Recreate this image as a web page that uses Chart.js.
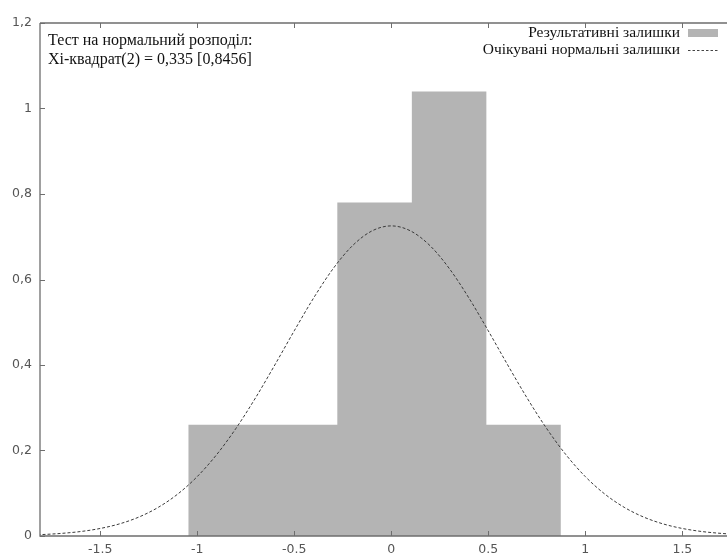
<!DOCTYPE html>
<html>
<head>
<meta charset="utf-8">
<script src="https://cdn.jsdelivr.net/npm/chart.js@4"></script>
<style>
  html, body { margin: 0; padding: 0; background: #fff; }
  #wrap { width: 727px; height: 558px; position: relative; }
</style>
</head>
<body>
<div id="wrap"><canvas id="chart"></canvas></div>
<script>
// histogram bins (bin edges and frequency density)
const binEdges = [-1.046, -0.662, -0.278, 0.106, 0.49, 0.874];
const binDensity = [0.26, 0.26, 0.78, 1.04, 0.26];

// expected normal curve
const curveX = [-1.9, -1.8, -1.7, -1.6, -1.5, -1.4, -1.3, -1.2, -1.1, -1.0,
  -0.9, -0.8, -0.7, -0.6, -0.5, -0.4, -0.3, -0.2, -0.1, 0,
  0.1, 0.2, 0.3, 0.4, 0.5, 0.6, 0.7, 0.8, 0.9, 1.0,
  1.1, 1.2, 1.3, 1.4, 1.5, 1.6, 1.7, 1.8, 1.9];
const curveY = [0.0019, 0.0034, 0.0061, 0.0105, 0.0176, 0.0284, 0.0444, 0.0672, 0.0982, 0.1389,
  0.1902, 0.2519, 0.3227, 0.4001, 0.4799, 0.5568, 0.6251, 0.6790, 0.7135, 0.7254,
  0.7135, 0.6790, 0.6251, 0.5568, 0.4799, 0.4001, 0.3227, 0.2519, 0.1902, 0.1389,
  0.0982, 0.0672, 0.0444, 0.0284, 0.0176, 0.0105, 0.0061, 0.0034, 0.0019];

const xTicks = [-1.5, -1, -0.5, 0, 0.5, 1, 1.5];
const yTicks = [0, 0.2, 0.4, 0.6, 0.8, 1, 1.2];

const seriesNames = ['Результативні залишки', 'Очікувані нормальні залишки'];
const testLines = ['Тест на нормальний розподіл:', 'Хі-квадрат(2) = 0,335 [0,8456]'];

// stepped outline of the histogram
const histPoints = [{ x: binEdges[0], y: 0 }];
binDensity.forEach((d, i) => histPoints.push({ x: binEdges[i], y: d }));
histPoints.push({ x: binEdges[binEdges.length - 1], y: binDensity[binDensity.length - 1] });
histPoints.push({ x: binEdges[binEdges.length - 1], y: 0 });

const curvePoints = curveX.map((x, i) => ({ x: x, y: curveY[i] }));

const axisColor = '#6e6e6e';
const barColor = '#b4b4b4';
const serif = '"Liberation Serif", "Times New Roman", serif';
const sans = '"DejaVu Sans", Verdana, sans-serif';

// frame, inward ticks, legend and test text (gnuplot look)
const framePlugin = {
  id: 'frame',
  afterDatasetsDraw(chart) {
    const ctx = chart.ctx;
    const a = chart.chartArea;
    const xs = chart.scales.x, ys = chart.scales.y;
    ctx.save();
    ctx.strokeStyle = axisColor;
    ctx.lineWidth = 1.3;
    ctx.beginPath();
    ctx.moveTo(a.left, a.top);
    ctx.lineTo(a.right, a.top);
    ctx.moveTo(a.left, a.top);
    ctx.lineTo(a.left, a.bottom);
    ctx.lineTo(a.right, a.bottom);
    ctx.stroke();

    ctx.lineWidth = 1;
    ctx.beginPath();
    xTicks.forEach(v => {
      const px = Math.round(xs.getPixelForValue(v)) + 0.5;
      ctx.moveTo(px, a.bottom);
      ctx.lineTo(px, a.bottom - 5);
      ctx.moveTo(px, a.top);
      ctx.lineTo(px, a.top + 5);
    });
    yTicks.forEach(v => {
      const py = Math.round(ys.getPixelForValue(v)) + 0.5;
      ctx.moveTo(a.left, py);
      ctx.lineTo(a.left + 5, py);
    });
    ctx.stroke();

    // test text, top left
    ctx.fillStyle = '#111';
    ctx.font = '16px ' + serif;
    ctx.textAlign = 'left';
    ctx.textBaseline = 'middle';
    ctx.fillText(testLines[0], 48, 41);
    ctx.fillText(testLines[1], 48, 60);

    // legend, top right
    ctx.font = '15.5px ' + serif;
    ctx.textAlign = 'right';
    ctx.fillText(seriesNames[0], 680, 33);
    ctx.fillText(seriesNames[1], 680, 50);
    ctx.fillStyle = barColor;
    ctx.fillRect(688, 29, 30, 8);
    ctx.strokeStyle = '#444';
    ctx.setLineDash([2.5, 2]);
    ctx.beginPath();
    ctx.moveTo(688, 50.5);
    ctx.lineTo(718, 50.5);
    ctx.stroke();
    ctx.restore();
  }
};

new Chart(document.getElementById('chart'), {
  type: 'line',
  data: {
    datasets: [
      {
        label: seriesNames[0],
        data: histPoints,
        stepped: 'before',
        fill: 'origin',
        backgroundColor: barColor,
        borderWidth: 0,
        pointRadius: 0,
        order: 2
      },
      {
        label: seriesNames[1],
        data: curvePoints,
        fill: false,
        borderColor: '#3a3a3a',
        borderWidth: 1,
        borderDash: [3, 2],
        cubicInterpolationMode: 'monotone',
        pointRadius: 0,
        order: 1
      }
    ]
  },
  options: {
    responsive: true,
    maintainAspectRatio: false,
    animation: false,
    layout: { padding: { top: 23, right: 0, left: 0, bottom: 0 } },
    plugins: {
      legend: { display: false },
      tooltip: { enabled: false }
    },
    scales: {
      x: {
        type: 'linear',
        min: -1.81,
        max: 1.73,
        afterBuildTicks: s => { s.ticks = xTicks.map(v => ({ value: v })); },
        afterFit: s => { s.height = 22; },
        grid: { display: false, drawTicks: false },
        border: { display: false },
        ticks: {
          padding: 6,
          color: '#555',
          font: { family: sans, size: 12.5 },
          callback: v => String(v),
          maxRotation: 0
        }
      },
      y: {
        type: 'linear',
        min: 0,
        max: 1.2,
        afterBuildTicks: s => { s.ticks = yTicks.map(v => ({ value: v })); },
        afterFit: s => { s.width = 40; },
        grid: { display: false, drawTicks: false },
        border: { display: false },
        ticks: {
          padding: 8,
          color: '#555',
          font: { family: sans, size: 12.5 },
          callback: v => String(v).replace('.', ',')
        }
      }
    }
  },
  plugins: [framePlugin]
});
</script>
</body>
</html>
